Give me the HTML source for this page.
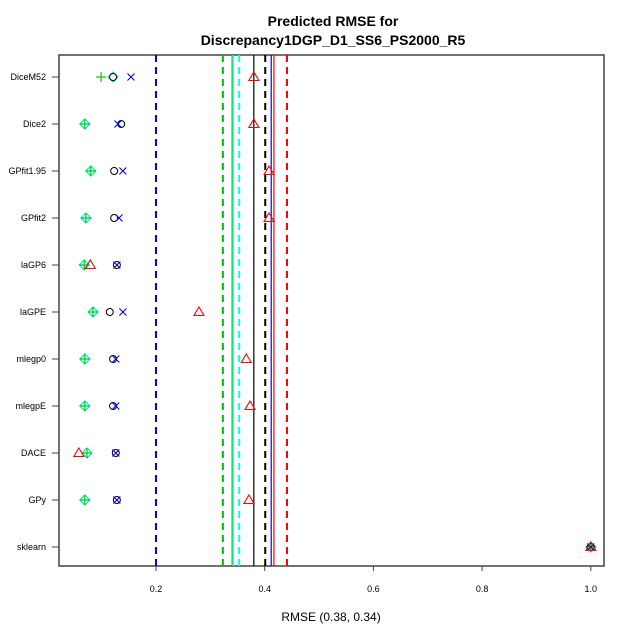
<!DOCTYPE html>
<html><head><meta charset="utf-8"><style>
body{margin:0;background:#fff}
svg{display:block;font-family:"Liberation Sans",sans-serif}
</style></head><body>
<svg id="chart" width="640" height="640" viewBox="0 0 640 640">
<rect width="640" height="640" fill="#fff"/>
<text x="333" y="26" text-anchor="middle" font-size="14" font-weight="bold">Predicted RMSE for</text>
<text x="333" y="45" text-anchor="middle" font-size="14" font-weight="bold">Discrepancy1DGP_D1_SS6_PS2000_R5</text>
<text x="331" y="621" text-anchor="middle" font-size="12">RMSE (0.38, 0.34)</text>
<g id="plot"></g>
</svg>
<script>
const categories=["DiceM52","Dice2","GPfit1.95","GPfit2","laGP6","laGPE","mlegp0","mlegpE","DACE","GPy","sklearn"];
const plusVals=[0.099,0.069,0.080,0.071,0.068,0.084,0.069,0.069,0.073,0.069,1.0];
const diamondVals=[0.121,0.069,0.080,0.071,0.068,0.084,0.069,0.069,0.073,0.069,1.0];
const circleVals=[0.121,0.136,0.123,0.123,0.128,0.115,0.121,0.121,0.126,0.128,1.0];
const crossVals=[0.154,0.130,0.139,0.132,0.128,0.139,0.126,0.126,0.126,0.128,1.0];
const triVals=[0.380,0.380,0.408,0.408,0.079,0.279,0.366,0.373,0.058,0.371,1.0];
const vlineVals=[0.200,0.323,0.340,0.342,0.353,0.380,0.401,0.412,0.417,0.441];
const vlineColors=["#0000ff","#00bb00","#00cc00","#00ffff","#00ffff","#000","#000","#0000ff","#ff0000","#ff0000"];
const vlineDashed=[true,true,false,false,true,false,true,false,false,true];
const xTicks=[0.2,0.4,0.6,0.8,1.0];
const L=59,R=604,T=55,B=566;
const xs=v=>47.3+v*543.5;
const ys=i=>77+i*47;
const NS="http://www.w3.org/2000/svg";
const g=document.getElementById('plot');
function mk(tag,attrs,name){const e=document.createElementNS(NS,tag);for(const k in attrs)e.setAttribute(k,attrs[k]);


g.appendChild(e);return e;}
mk('rect',{x:L,y:T,width:R-L,height:B-T,fill:'none',stroke:'#444','stroke-width':1.5},'plot-frame');
vlineVals.forEach((v,i)=>{const a={x1:xs(v),x2:xs(v),y1:T,y2:B,stroke:vlineColors[i],'stroke-width':vlineDashed[i]?2:1.2};if(vlineDashed[i])a['stroke-dasharray']='7,5';mk('line',a,'reference-line-'+i);});
xTicks.forEach(t=>{mk('line',{x1:xs(t),x2:xs(t),y1:B,y2:B+5,stroke:'#444'},'x-tick');const tx=mk('text',{x:xs(t),y:592,'text-anchor':'middle','font-size':9},'x-tick-label');tx.textContent=t.toFixed(1);});
categories.forEach((c,i)=>{const y=ys(i);mk('line',{x1:L-7,x2:L,y1:y,y2:y,stroke:'#444'},'y-tick');const tx=mk('text',{x:46,y:y+3,'text-anchor':'end','font-size':9},'y-tick-label');tx.textContent=c;
let x=xs(diamondVals[i]);mk('polygon',{points:`${x},${y-5} ${x+5},${y} ${x},${y+5} ${x-5},${y}`,fill:'none',stroke:'#00e5e5','stroke-width':1.2},'diamond-point');
x=xs(plusVals[i]);mk('path',{d:`M${x-5},${y}H${x+5}M${x},${y-5}V${y+5}`,stroke:'#00cc00','stroke-width':1.2},'plus-point');
x=xs(circleVals[i]);mk('circle',{cx:x,cy:y,r:3.5,fill:'none',stroke:'#000'},'circle-point');
x=xs(crossVals[i]);mk('path',{d:`M${x-3.5},${y-3.5}L${x+3.5},${y+3.5}M${x-3.5},${y+3.5}L${x+3.5},${y-3.5}`,stroke:'#0000ff','stroke-width':1.1},'cross-point');
x=xs(triVals[i]);mk('polygon',{points:`${x},${y-5} ${x+5},${y+3.5} ${x-5},${y+3.5}`,fill:'none',stroke:'#ff0000','stroke-width':1.1},'triangle-point');
});
</script>
</body></html>
